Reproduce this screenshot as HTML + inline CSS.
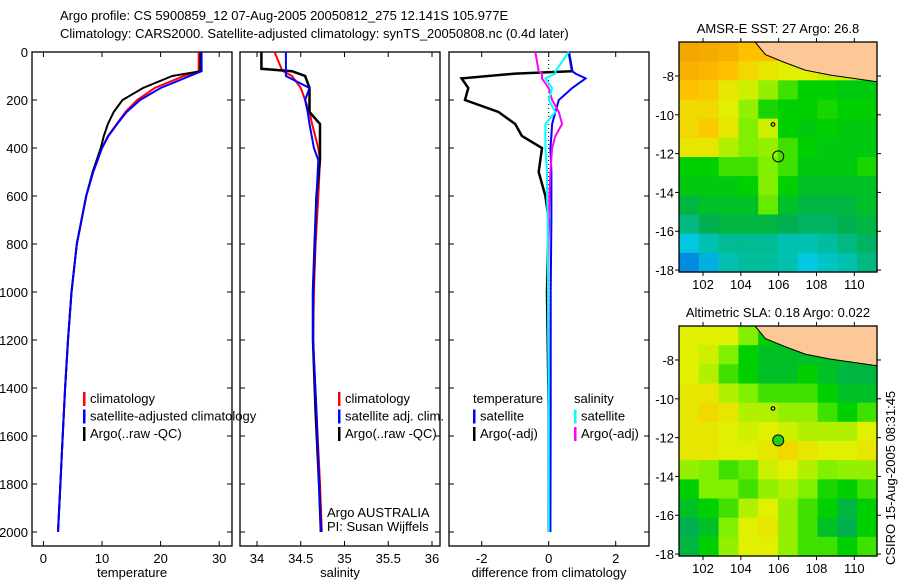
<!DOCTYPE html>
<html><head><meta charset="utf-8"><style>
body{margin:0;background:#fff}
svg text{font-family:"Liberation Sans",sans-serif;font-size:13px;fill:#000}
</style></head><body>
<svg id="s" width="900" height="580" viewBox="0 0 900 580" xmlns="http://www.w3.org/2000/svg">
<text x="60" y="20" font-size="14">Argo profile: CS 5900859_12 07-Aug-2005 20050812_275 12.141S 105.977E</text>
<text x="60" y="38" font-size="14">Climatology: CARS2000. Satellite-adjusted climatology: synTS_20050808.nc (0.4d later)</text>
<text transform="translate(895,565) rotate(-90)" font-size="14">CSIRO 15-Aug-2005 08:31:45</text>
<g id="g"></g>
</svg>
<script>
// ---- profile data (depth m, value) ----
const tempDepths=[0,80,100,150,200,250,300,350,400,500,600,800,1000,1200,1400,1600,1800,2000];
const tempClim=[26.5,26.5,24,19,16,14,12.5,11,10,8.5,7.3,5.7,4.8,4.2,3.7,3.3,2.9,2.5];
const tempSat=[27,27,25,20,16.5,14.2,12.6,11.1,10,8.5,7.3,5.7,4.8,4.2,3.7,3.3,2.9,2.5];
const tempArgo=[26.8,26.8,22,17,13.5,12,11,10.3,9.8,8.4,7.3,5.7,4.8,4.2,3.7,3.3,2.9,2.5];
const salDepths=[0,70,80,100,150,200,250,300,400,450,600,800,1000,1200,1500,1800,2000];
const salClim=[34.2,34.28,34.3,34.4,34.5,34.55,34.6,34.63,34.7,34.72,34.7,34.67,34.65,34.64,34.68,34.72,34.74];
const salSat=[34.33,34.33,34.33,34.33,34.6,34.55,34.58,34.6,34.65,34.7,34.68,34.66,34.64,34.64,34.68,34.71,34.73];
const salArgo=[34.05,34.05,34.4,34.55,34.6,34.6,34.6,34.72,34.72,34.72,34.68,34.66,34.64,34.64,34.67,34.71,34.73];
const diffDepths=[0,80,90,110,150,200,250,300,350,400,500,600,700,1000,1500,2000];
const dTempSat=[0.6,0.7,0.8,1.1,0.7,0.3,0.2,0.1,0.08,0.05,0.08,0.08,0.08,0.06,0.06,0.05];
const dTempArgo=[0.6,0.7,-1,-2.6,-2.4,-2.5,-1.5,-1,-0.8,-0.2,-0.3,-0.1,0,-0.05,0,0];
const dSalSat=[0.6,0.2,0.2,-0.1,0.1,0,0.2,-0.1,-0.1,-0.1,-0.05,-0.05,-0.03,-0.02,0,0];
const dSalArgo=[-0.4,-0.3,-0.2,-0.2,0,0.1,0.3,0.4,0.2,0.1,0.05,0.02,0,-0.02,0,0];
// ---- map data (rows lat -6.25 → -18.1, cols lon 100.7 → 111.2) ----
const sstGrid=[
[.88,.87,.85,.8,.8,.75,.75,.75,.72,.72],
[.85,.83,.8,.75,.72,.7,.7,.68,.68,.65],
[.8,.78,.72,.68,.62,.55,.5,.5,.48,.48],
[.75,.75,.7,.62,.52,.5,.5,.52,.5,.5],
[.75,.78,.72,.6,.68,.5,.48,.5,.48,.48],
[.72,.72,.65,.6,.62,.55,.5,.48,.48,.48],
[.5,.5,.55,.55,.6,.55,.48,.48,.48,.52],
[.48,.48,.48,.5,.6,.5,.45,.45,.45,.45],
[.42,.45,.45,.45,.58,.45,.42,.42,.42,.45],
[.35,.4,.42,.42,.42,.4,.38,.38,.4,.42],
[.25,.3,.33,.33,.33,.3,.3,.32,.35,.38],
[.12,.2,.3,.32,.32,.3,.25,.28,.3,.35]];
const slaGrid=[
[.7,.7,.7,.6,.5,.5,.5,.5,.5,.5],
[.7,.68,.6,.5,.45,.45,.45,.45,.45,.45],
[.7,.65,.55,.5,.45,.45,.5,.45,.42,.42],
[.72,.72,.65,.6,.55,.55,.55,.5,.45,.45],
[.72,.75,.72,.65,.65,.62,.62,.55,.5,.55],
[.72,.72,.7,.68,.7,.68,.65,.65,.65,.7],
[.72,.72,.7,.7,.72,.75,.72,.7,.7,.72],
[.62,.6,.55,.58,.68,.7,.65,.6,.62,.62],
[.5,.6,.6,.55,.62,.65,.6,.52,.5,.55],
[.45,.5,.55,.65,.7,.62,.55,.5,.42,.5],
[.4,.45,.6,.7,.72,.62,.55,.45,.4,.5],
[.42,.5,.62,.7,.7,.62,.55,.55,.5,.55]];
const landLon=[104.75,105.3,106.3,107.4,108.7,111.2,111.2];
const landLat=[-6.25,-6.9,-7.3,-7.7,-7.95,-8.3,-6.25];
const floatPos=[105.977,-12.141];
const islandPos=[105.7,-10.5];

const NS='http://www.w3.org/2000/svg';
const G=document.getElementById('g');
function mk(tag,attrs,parent){const e=document.createElementNS(NS,tag);for(const k in attrs)e.setAttribute(k,attrs[k]);(parent||G).appendChild(e);return e;}
function txt(x,y,s,anchor,parent){const t=mk('text',{x:x,y:y,'text-anchor':anchor||'start'},parent);t.textContent=s;return t;}

const yTop=52, yBot=546;
const yD=d=>532-(2000-d)*0.24;
const panels=[
 {name:'temperature',x0:32,x1:232,v0:0,px0:43.4,scale:5.86,ticks:[0,10,20,30],label:'temperature'},
 {name:'salinity',x0:240,x1:440,v0:34,px0:257,scale:175/2,ticks:[34,34.5,35,35.5,36],label:'salinity'},
 {name:'difference',x0:449,x1:649,v0:0,px0:548.7,scale:33.5,ticks:[-2,0,2],label:'difference from climatology'}];
panels.forEach((p,i)=>{p.fx=v=>p.px0+(v-p.v0)*p.scale;
 const pg=mk('g',{});
 
 
 const fr=mk('rect',{x:p.x0,y:yTop,width:p.x1-p.x0,height:yBot-yTop,fill:'none',stroke:'#000','stroke-width':1.3},pg);
 
 
 p.ticks.forEach(t=>{const x=p.fx(t);mk('line',{x1:x,x2:x,y1:yBot,y2:yBot-5,stroke:'#000'},pg);mk('line',{x1:x,x2:x,y1:yTop,y2:yTop+5,stroke:'#000'},pg);
  const tl=txt(x,563,String(t),'middle',pg);
  
  });
 const xl=txt((p.x0+p.x1)/2,577,p.label,'middle',pg);
 
 
 for(let d=0;d<=2000;d+=200){const y=yD(d);mk('line',{x1:p.x0,x2:p.x0+5,y1:y,y2:y,stroke:'#000'},pg);mk('line',{x1:p.x1,x2:p.x1-5,y1:y,y2:y,stroke:'#000'},pg);
  if(i===0){const tl=txt(28,y+5,String(d),'end',pg);
   
   }}
});
function profile(p,depths,vals,color,w,name){
 const pts=depths.map((d,k)=>p.fx(vals[k]).toFixed(1)+','+yD(d).toFixed(1)).join(' ');
 const e=mk('polyline',{points:pts,fill:'none',stroke:color,'stroke-width':w});
 
 }
const [P1,P2,P3]=panels;
profile(P1,tempDepths,tempClim,'#f00',2,'temp-climatology-line');
profile(P1,tempDepths,tempArgo,'#000',2,'temp-argo-line');
profile(P1,tempDepths,tempSat,'#00f',2,'temp-satellite-line');
profile(P2,salDepths,salClim,'#f00',2,'sal-climatology-line');
profile(P2,salDepths,salArgo,'#000',2.5,'sal-argo-line');
profile(P2,salDepths,salSat,'#00f',2,'sal-satellite-line');
const zl=mk('line',{x1:P3.fx(0),x2:P3.fx(0),y1:yD(0),y2:yD(2000),stroke:'#000','stroke-dasharray':'1,3'});


profile(P3,diffDepths,dTempArgo,'#000',2.5,'diff-temp-argo-line');
profile(P3,diffDepths,dTempSat,'#00f',2,'diff-temp-satellite-line');
profile(P3,diffDepths,dSalArgo,'#f0f',2,'diff-sal-argo-line');
profile(P3,diffDepths,dSalSat,'#0ff',2,'diff-sal-satellite-line');

function legend(x,y,items){items.forEach((it,k)=>{const yy=y+k*17.5;
 if(it[0]){const b=mk('rect',{x:x,y:yy-11,width:2.5,height:14,fill:it[0]});
  
  }
 const t=txt(x+(it[0]?7:0),yy,it[1]);
 
 });}
legend(83,403,[['#f00','climatology'],['#00f','satellite-adjusted climatology'],['#000','Argo(..raw -QC)']]);
legend(338,403,[['#f00','climatology'],['#00f','satellite adj. clim.'],['#000','Argo(..raw -QC)']]);
legend(473,403,[[null,' temperature'],['#00f','satellite'],['#000','Argo(-adj)']]);
legend(574,403,[[null,'  salinity'],['#0ff','satellite'],['#f0f','Argo(-adj)']]);
const a1=txt(327,517,'Argo AUSTRALIA');
const a2=txt(327,531,'PI: Susan Wijffels');

// ---- maps ----
const stops=[[0,[0,80,224]],[.25,[0,200,224]],[.4,[0,176,80]],[.5,[0,208,0]],[.6,[128,240,0]],[.7,[224,240,0]],[.8,[255,192,0]],[.9,[240,160,0]],[1,[240,140,0]]];
function cmap(v){for(let k=1;k<stops.length;k++){if(v<=stops[k][0]){const a=stops[k-1],b=stops[k],f=(v-a[0])/(b[0]-a[0]);return 'rgb('+a[1].map((c,j)=>Math.round(c+(b[1][j]-c)*f)).join(',')+')';}}return 'rgb(240,140,0)';}
function drawMap(name,top,title,grid,filled){
 const x0=679,x1=877,y0=top,y1=top+230;
 const lonL=100.73,lonR=111.2,latT=-6.25,latB=-18.1;
 const fx=l=>x0+(l-lonL)/(lonR-lonL)*(x1-x0), fy=l=>y0+(latT-l)/(latT-latB)*(y1-y0);
 const mg=mk('g',{});
 
 
 const rows=grid.length, cols=grid[0].length, cw=(x1-x0)/cols, ch=(y1-y0)/rows;
 grid.forEach((row,r)=>row.forEach((v,c)=>{const cell=mk('rect',{x:x0+c*cw,y:y0+r*ch,width:cw+0.6,height:ch+0.6,fill:cmap(v)},mg);
  
  }));
 const land=mk('polygon',{points:landLon.map((l,k)=>fx(l)+','+fy(landLat[k])).join(' '),fill:'#fcc898',stroke:'#000','stroke-width':1},mg);
 
 
 const isl=mk('circle',{cx:fx(islandPos[0]),cy:fy(islandPos[1]),r:1.8,fill:'none',stroke:'#000','stroke-width':1.2},mg);
 
 
 const fl=mk('circle',{cx:fx(floatPos[0]),cy:fy(floatPos[1]),r:5.5,fill:filled?'#20d020':'none',stroke:'#000','stroke-width':1},mg);
 
 
 const fr=mk('rect',{x:x0,y:y0,width:x1-x0,height:y1-y0,fill:'none',stroke:'#000','stroke-width':1.3},mg);
 
 
 [102,104,106,108,110].forEach(l=>{const x=fx(l);mk('line',{x1:x,x2:x,y1:y1,y2:y1+4,stroke:'#000'},mg);mk('line',{x1:x,x2:x,y1:y0,y2:y0-4,stroke:'#000'},mg);
  const t=txt(x,y1+17,String(l),'middle',mg);});
 [-8,-10,-12,-14,-16,-18].forEach(l=>{const y=fy(l);mk('line',{x1:x0,x2:x0-4,y1:y,y2:y,stroke:'#000'},mg);mk('line',{x1:x1,x2:x1+4,y1:y,y2:y,stroke:'#000'},mg);
  const t=txt(x0-5,y+5,String(l),'end',mg);});
 const tt=txt((x0+x1)/2,y0-9,title,'middle',mg);
}
drawMap('sst',42,'AMSR-E SST: 27 Argo: 26.8',sstGrid,false);
drawMap('sla',326,'Altimetric SLA: 0.18 Argo: 0.022',slaGrid,true);
</script>
</body></html>
